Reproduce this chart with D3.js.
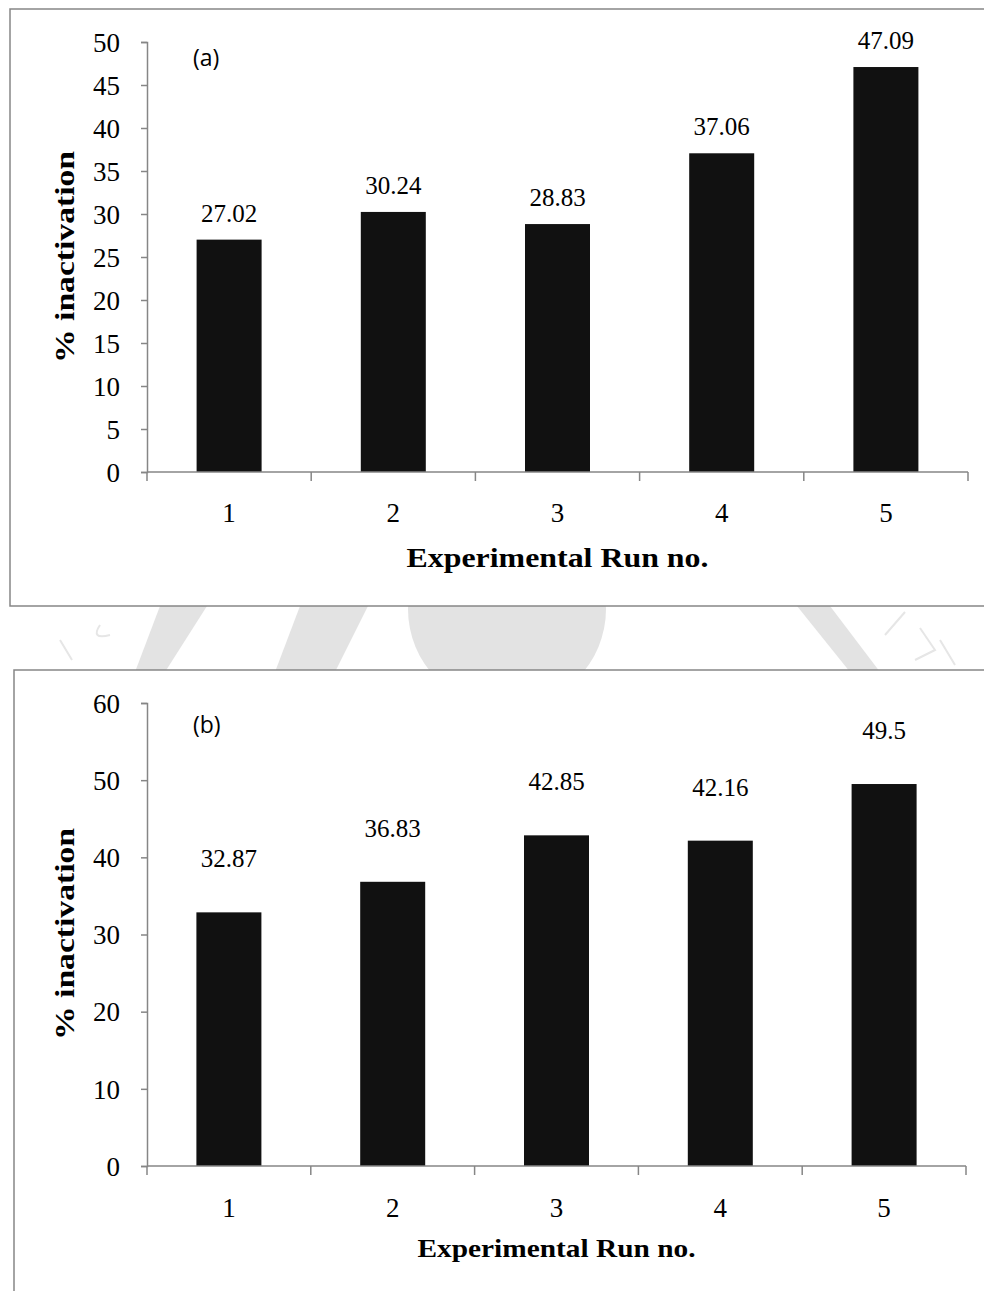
<!DOCTYPE html>
<html>
<head>
<meta charset="utf-8">
<script src="https://cdn.jsdelivr.net/npm/d3@7"></script>
<style>
  html, body { margin: 0; padding: 0; background: #ffffff; }
  svg { display: block; }
</style>
</head>
<body>
<script>
// ---- data ----
const categories = ["1", "2", "3", "4", "5"];
const valuesA = [27.02, 30.24, 28.83, 37.06, 47.09];
const valuesB = [32.87, 36.83, 42.85, 42.16, 49.5];
const yTicksA = [0, 5, 10, 15, 20, 25, 30, 35, 40, 45, 50];
const yTicksB = [0, 10, 20, 30, 40, 50, 60];
const panelLabels = ["(a)", "(b)"];
const xTitle = "Experimental Run no.";
const yTitle = "% inactivation";

const W = 984, H = 1291;
const svg = d3.select("body").append("svg").attr("width", W).attr("height", H);

// faint watermark visible between the panels
const wm = svg.append("g").attr("fill", "#e3e3e3");
wm.append("path").attr("d", "M160,606 L207,606 L165,672 L135,672 Z");
wm.append("path").attr("d", "M300,606 L368,606 L335,672 L275,672 Z");
wm.append("circle").attr("cx", 507).attr("cy", 609).attr("r", 99);
wm.append("path").attr("d", "M797,606 L830,606 L880,672 L850,672 Z");
const wmLines = svg.append("g").attr("stroke", "#e6e6e6").attr("stroke-width", 2).attr("fill", "none");
wmLines.append("path").attr("d", "M72,660 L60,640 M100,625 Q90,640 110,635 M400,0");
wmLines.append("path").attr("d", "M905,612 L885,635 M920,628 L935,650 L915,660 M940,640 L955,665");

const axisColor = "#868686";
const serif = "'Liberation Serif', 'Times New Roman', serif";

function drawPanel(cfg) {
  const g = svg.append("g");
  // panel frame
  g.append("rect")
    .attr("x", cfg.frame[0]).attr("y", cfg.frame[1])
    .attr("width", cfg.frame[2]).attr("height", cfg.frame[3])
    .attr("fill", "#ffffff").attr("stroke", "#868686").attr("stroke-width", 1.5);

  const xb = d3.scaleBand().domain(categories).range([cfg.x0, cfg.x1]);
  const y = d3.scaleLinear().domain([0, cfg.yMax]).range([cfg.yBottom, cfg.yTop]);

  // bars
  g.selectAll("rect.bar").data(cfg.values).join("rect")
    .attr("class", "bar")
    .attr("x", (d, i) => xb(categories[i]) + xb.bandwidth() / 2 - cfg.barW / 2)
    .attr("width", cfg.barW)
    .attr("y", d => y(d))
    .attr("height", d => y(0) - y(d))
    .attr("fill", "#111111");

  // value labels
  g.selectAll("text.val").data(cfg.values).join("text")
    .attr("class", "val")
    .attr("x", (d, i) => xb(categories[i]) + xb.bandwidth() / 2)
    .attr("y", d => y(d) - cfg.labelLift)
    .attr("text-anchor", "middle")
    .attr("font-family", serif).attr("font-size", 25)
    .attr("fill", "#000")
    .text(d => String(d));

  // y axis
  const yAxis = d3.axisLeft(y).tickValues(cfg.yTicks).tickSize(6).tickPadding(0).tickFormat(d3.format("d"));
  const ya = g.append("g").attr("transform", `translate(${cfg.x0},0)`).call(yAxis);
  ya.select(".domain").attr("stroke", axisColor).attr("stroke-width", 1.5);
  ya.selectAll(".tick line").attr("stroke", axisColor).attr("stroke-width", 1.5);
  ya.selectAll(".tick text")
    .attr("font-family", serif).attr("font-size", 27).attr("fill", "#000")
    .attr("x", -27).attr("dy", "0.34em");

  // x axis: baseline with ticks at category boundaries
  const xa = g.append("g").attr("transform", `translate(0,${cfg.yBottom})`);
  xa.append("line").attr("x1", cfg.x0).attr("x2", cfg.x1)
    .attr("stroke", axisColor).attr("stroke-width", 1.5);
  const bounds = categories.map(c => xb(c)).concat([cfg.x1]);
  xa.selectAll("line.tk").data(bounds).join("line")
    .attr("class", "tk")
    .attr("x1", d => d).attr("x2", d => d).attr("y1", 0).attr("y2", 9)
    .attr("stroke", axisColor).attr("stroke-width", 1.5);
  xa.selectAll("text.xl").data(categories).join("text")
    .attr("class", "xl")
    .attr("x", d => xb(d) + xb.bandwidth() / 2)
    .attr("y", cfg.xLabelDy)
    .attr("text-anchor", "middle")
    .attr("font-family", serif).attr("font-size", 27).attr("fill", "#000")
    .text(d => d);

  // axis titles
  g.append("text")
    .attr("x", (cfg.x0 + cfg.x1) / 2).attr("y", cfg.xTitleY)
    .attr("text-anchor", "middle")
    .attr("font-family", serif).attr("font-weight", "bold").attr("font-size", cfg.xTitleSize)
    .attr("textLength", cfg.xTitleLen).attr("lengthAdjust", "spacingAndGlyphs")
    .attr("fill", "#000").text(xTitle);
  g.append("text")
    .attr("transform", `translate(${cfg.yTitleX},${cfg.yTitleY}) rotate(-90)`)
    .attr("text-anchor", "middle")
    .attr("font-family", serif).attr("font-weight", "bold").attr("font-size", 28)
    .attr("textLength", cfg.yTitleLen).attr("lengthAdjust", "spacingAndGlyphs")
    .attr("fill", "#000").text(yTitle);

  // panel tag
  g.append("text")
    .attr("x", cfg.tagX).attr("y", cfg.tagY)
    .attr("font-family", "'Open Sans', 'Liberation Sans', sans-serif").attr("font-size", 23)
    .attr("fill", "#000").text(cfg.tag);
}

drawPanel({
  frame: [10, 9, 990, 597],
  values: valuesA, yMax: 50, yTicks: yTicksA,
  x0: 147, x1: 968, yTop: 42, yBottom: 472, barW: 65,
  labelLift: 18, xLabelDy: 50, xTitleY: 567, xTitleSize: 28, xTitleLen: 302,
  yTitleX: 74, yTitleY: 257, yTitleLen: 212,
  tag: panelLabels[0], tagX: 193, tagY: 66
});

drawPanel({
  frame: [14, 670, 990, 700],
  values: valuesB, yMax: 60, yTicks: yTicksB,
  x0: 147, x1: 966, yTop: 703, yBottom: 1166, barW: 65,
  labelLift: 45, xLabelDy: 51, xTitleY: 1257, xTitleSize: 26, xTitleLen: 278,
  yTitleX: 74, yTitleY: 934, yTitleLen: 212,
  tag: panelLabels[1], tagX: 193, tagY: 733
});
</script>
</body>
</html>
